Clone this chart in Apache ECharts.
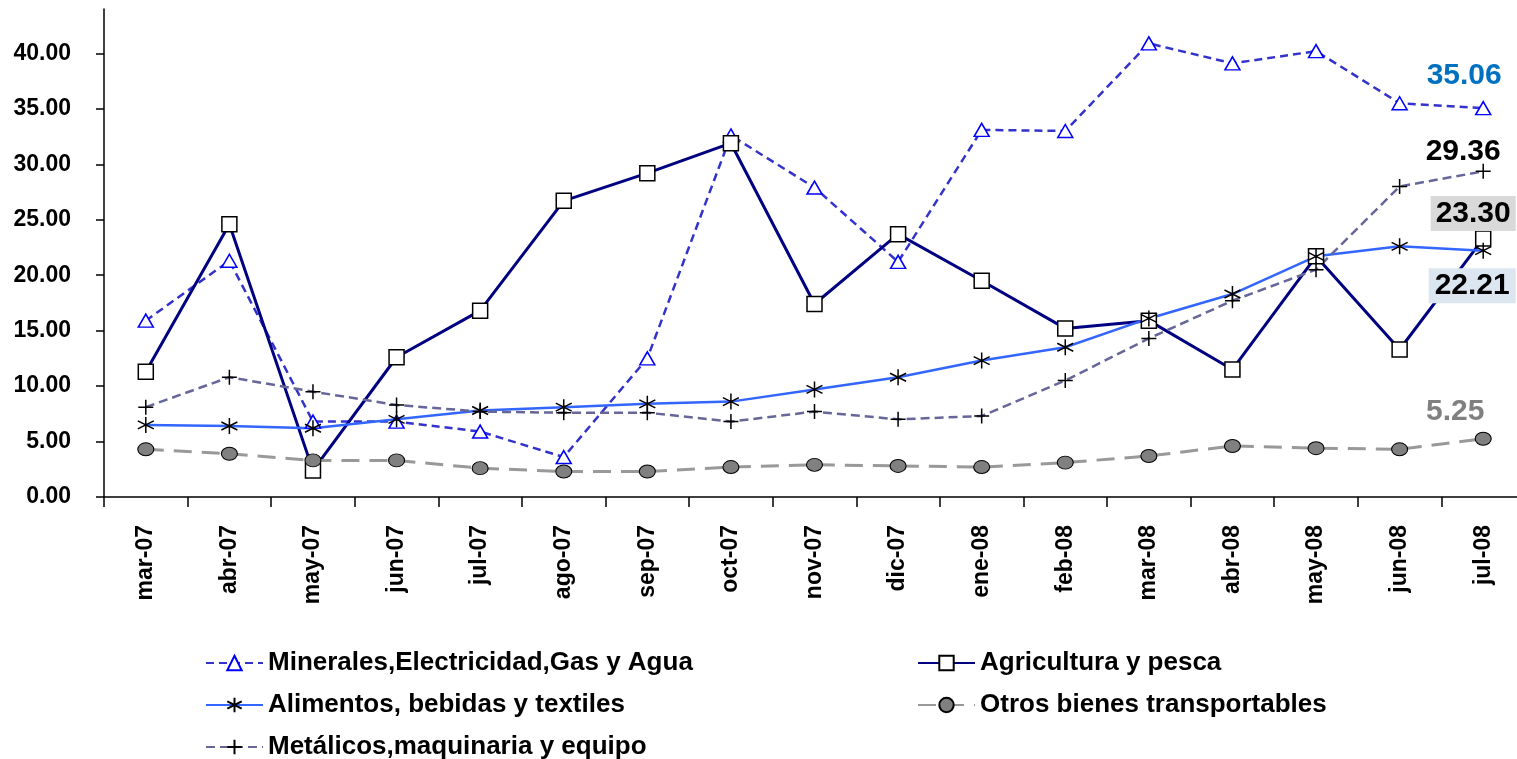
<!DOCTYPE html>
<html>
<head>
<meta charset="utf-8">
<script src="https://cdn.jsdelivr.net/npm/echarts@6/dist/echarts.min.js"></script>
<style>
    html, body { margin: 0; padding: 0; background: #fff; }
    #chart { width: 1517px; height: 759px; }
</style>
</head>
<body>
<div id="chart"></div>
<script>
    // meses
    var months = ['mar-07', 'abr-07', 'may-07', 'jun-07', 'jul-07', 'ago-07', 'sep-07', 'oct-07', 'nov-07',
                  'dic-07', 'ene-08', 'feb-08', 'mar-08', 'abr-08', 'may-08', 'jun-08', 'jul-08'];
    var yTicks = [0, 5, 10, 15, 20, 25, 30, 35, 40];

    var minerales   = [15.9, 21.3, 6.8, 6.8, 5.9, 3.6, 12.5, 32.6, 27.9, 21.2, 33.1, 33.0, 40.9, 39.1, 40.2, 35.5, 35.06];
    var agricultura = [11.3, 24.6, 2.4, 12.6, 16.8, 26.7, 29.2, 31.9, 17.4, 23.7, 19.5, 15.2, 15.9, 11.5, 21.7, 13.3, 23.30];
    var alimentos   = [6.5, 6.4, 6.2, 7.0, 7.8, 8.1, 8.4, 8.6, 9.7, 10.8, 12.3, 13.5, 16.1, 18.3, 21.7, 22.6, 22.21];
    var otros       = [4.3, 3.9, 3.3, 3.3, 2.6, 2.3, 2.3, 2.7, 2.9, 2.8, 2.7, 3.1, 3.7, 4.6, 4.4, 4.3, 5.25];
    var metalicos   = [8.1, 10.8, 9.5, 8.3, 7.7, 7.6, 7.6, 6.8, 7.7, 7.0, 7.3, 10.5, 14.3, 17.7, 20.5, 28.0, 29.36];

    var FONT = '"Liberation Sans", Arial, sans-serif';

    // solo el ultimo punto lleva etiqueta
    function withLastLabel(arr, lbl) {
        return arr.map(function (v, i) {
            if (i !== arr.length - 1) return v;
            var l = Object.assign({
                show: true, position: 'inside', fontFamily: FONT, fontWeight: 'bold', fontSize: 30,
                color: '#000', formatter: function (p) { return p.value.toFixed(2); }
            }, lbl);
            return {value: v, label: l};
        });
    }

    var asterisk = 'path://M5,0L5,10M0.7,2.5L9.3,7.5M0.7,7.5L9.3,2.5';
    var plus = 'path://M0,5L10,5M5,0L5,10';

    var legendText = {fontFamily: FONT, fontWeight: 'bold', fontSize: 26, color: '#000', lineHeight: 26};

    var myChart = echarts.init(document.getElementById('chart'));
    var option = {
        animation: false,
        grid: {left: 104, width: 1421, top: 9, bottom: 262, containLabel: false, outerBoundsMode: 'none'},
        xAxis: {
            type: 'category', data: months, boundaryGap: true,
            axisLine: {lineStyle: {color: '#000', width: 1.5}},
            axisTick: {show: true, interval: 0, length: 10, lineStyle: {color: '#000', width: 1.5}},
            axisLabel: {interval: 0, rotate: 90, margin: 28, color: '#000', fontFamily: FONT, fontWeight: 'bold', fontSize: 23},
            splitLine: {show: false}
        },
        yAxis: {
            type: 'value', min: 0, max: 44, interval: 5,
            axisLine: {show: true, lineStyle: {color: '#000', width: 1.5}},
            axisTick: {show: true, length: 8, customValues: yTicks, lineStyle: {color: '#000', width: 1.5}},
            axisLabel: {margin: 33, customValues: yTicks, color: '#000', fontFamily: FONT, fontWeight: 'bold', fontSize: 23,
                        formatter: function (v) { return v.toFixed(2); }},
            splitLine: {show: false}
        },
        legend: [{
            left: 205, top: 650, height: 130, orient: 'vertical', padding: 0, itemWidth: 57, itemHeight: 18, itemGap: 16,
            textStyle: legendText,
            data: ['Minerales,Electricidad,Gas y Agua', 'Alimentos, bebidas y textiles', 'Metálicos,maquinaria y equipo']
        }, {
            left: 917, top: 650, height: 130, orient: 'vertical', padding: 0, itemWidth: 57, itemHeight: 18, itemGap: 16,
            textStyle: legendText,
            data: ['Agricultura y pesca', 'Otros bienes transportables']
        }],
        series: [
            {
                name: 'Minerales,Electricidad,Gas y Agua', type: 'line',
                data: withLastLabel(minerales, {color: '#0070c0', offset: [-19, -32]}),
                symbol: 'triangle', symbolSize: [15, 13],
                lineStyle: {color: '#3333cc', width: 2.5, type: [8, 5]},
                itemStyle: {color: '#fff', borderColor: '#0000ff', borderWidth: 1.5}
            },
            {
                name: 'Agricultura y pesca', type: 'line',
                data: withLastLabel(agricultura, {backgroundColor: '#d9d9d9', padding: [3, 5, 2, 5], offset: [-10, -25]}),
                symbol: 'rect', symbolSize: 15,
                lineStyle: {color: '#000080', width: 3},
                itemStyle: {color: '#fff', borderColor: '#000', borderWidth: 1.5}
            },
            {
                name: 'Alimentos, bebidas y textiles', type: 'line',
                data: withLastLabel(alimentos, {backgroundColor: '#dce6f1', padding: [3, 6, 2, 6], offset: [-11, 35]}),
                symbol: asterisk, symbolSize: 16,
                lineStyle: {color: '#3366ff', width: 2.5},
                itemStyle: {color: 'none', borderColor: '#000', borderWidth: 1.5}
            },
            {
                name: 'Otros bienes transportables', type: 'line',
                data: withLastLabel(otros, {color: '#808080', offset: [-28, -27]}),
                symbol: 'circle', symbolSize: [16, 13],
                lineStyle: {color: '#999999', width: 3, type: [18, 10]},
                itemStyle: {color: '#808080', borderColor: '#000', borderWidth: 1}
            },
            {
                name: 'Metálicos,maquinaria y equipo', type: 'line',
                data: withLastLabel(metalicos, {offset: [-20, -20]}),
                symbol: plus, symbolSize: 15,
                lineStyle: {color: '#666699', width: 2.5, type: [9, 5]},
                itemStyle: {color: 'none', borderColor: '#000', borderWidth: 1.5}
            }
        ]
    };
    myChart.setOption(option);
</script>
</body>
</html>
